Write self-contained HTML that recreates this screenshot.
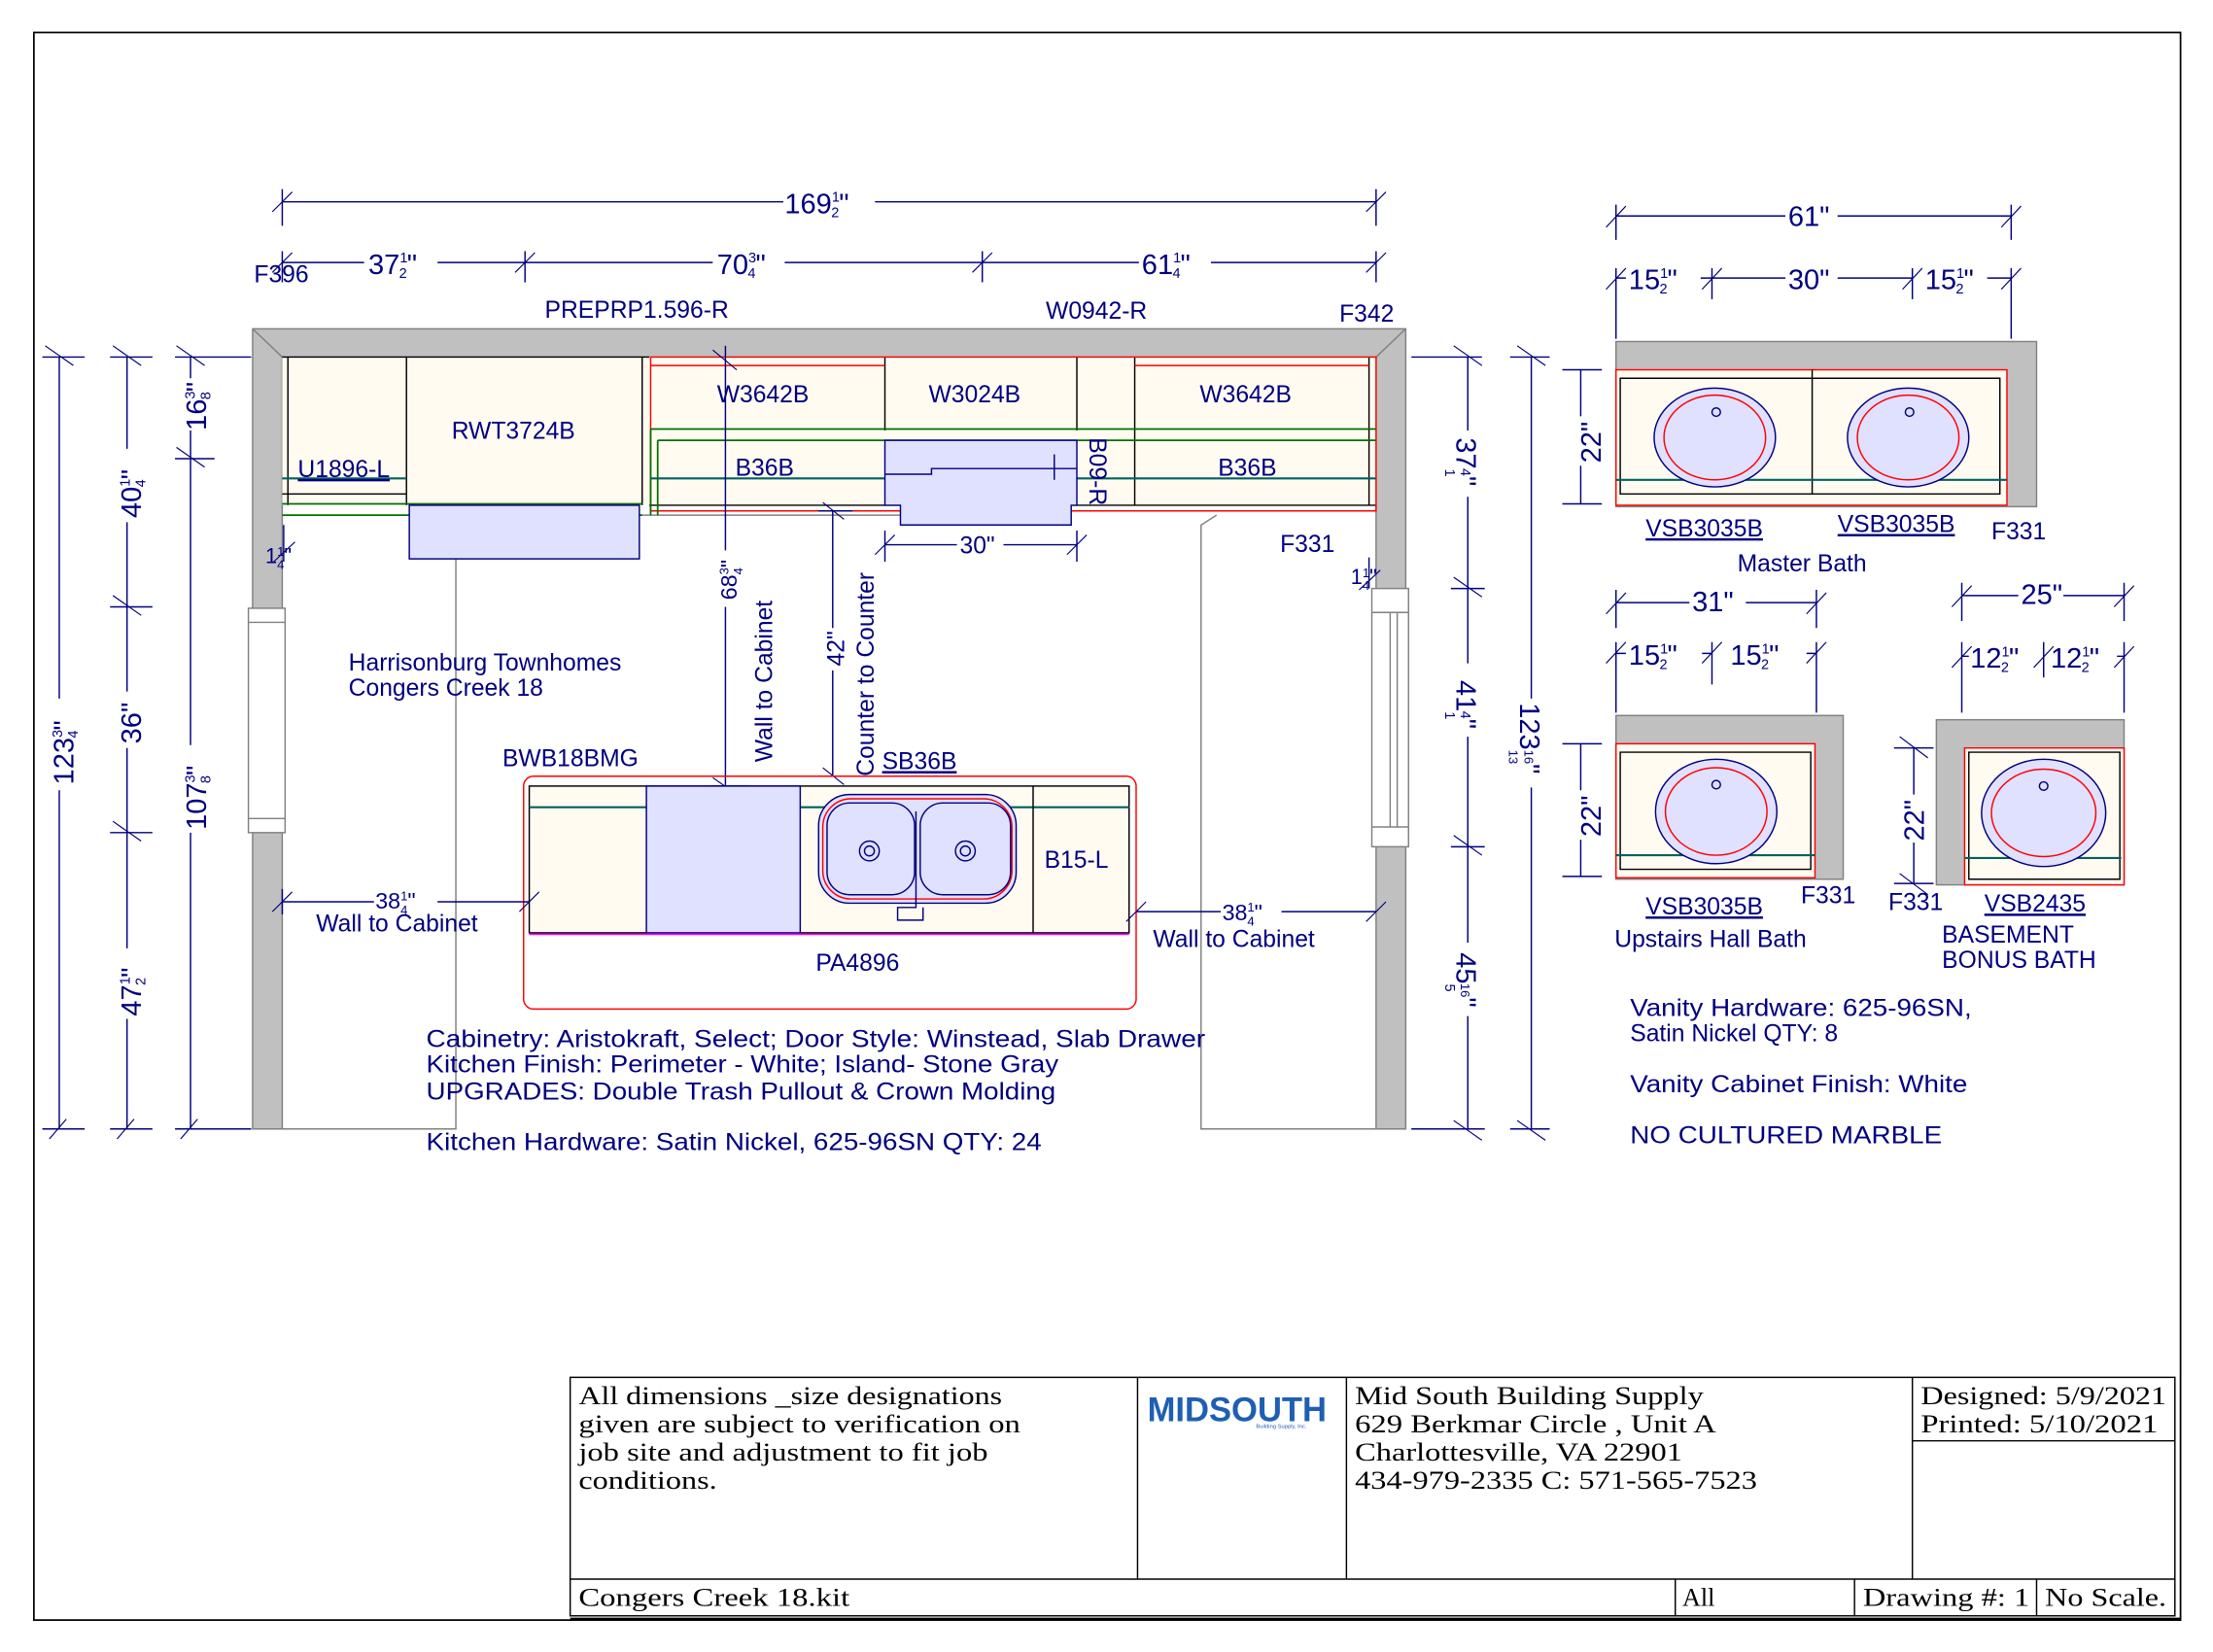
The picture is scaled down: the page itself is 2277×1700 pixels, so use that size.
<!DOCTYPE html>
<html><head><meta charset="utf-8"><style>html,body{margin:0;padding:0;background:#fff}svg{display:block}</style></head>
<body>
<svg xmlns="http://www.w3.org/2000/svg" width="2277" height="1700" viewBox="0 0 1568 1170.6">
<defs>
<style>
text{font-family:"Liberation Sans",sans-serif;fill:#00007f}
.s{font-family:"Liberation Serif",serif;fill:#000;font-size:18px}
.d{stroke:#00007f;stroke-width:1;fill:none}
.t{stroke:#00007f;stroke-width:0.8;fill:none}
.k{stroke:#000;stroke-width:1;fill:none}
.g{stroke:#808080;stroke-width:1;fill:none}
</style>
</defs>
<rect x="0" y="0" width="1568" height="1171" fill="#fff"/>
<rect x="24" y="23" width="1521" height="1125" fill="none" stroke="#000" stroke-width="1.2"/>

<path class="g" d="M200 800 H323 V396"/>
<path class="g" d="M975 800 H851 V372 L862 365"/>
<path class="g" d="M453 365 H640"/>

<path d="M179 233 H996 V800 H975 V253 H200 V800 H179 Z" fill="#c0c0c0" stroke="#808080"/>
<path class="g" d="M179 233 L200 253 M996 233 L975 253"/>
<rect x="176" y="431" width="26" height="159" fill="#fff" stroke="#808080"/>
<path class="g" d="M176 441 H202 M176 580 H202"/>
<rect x="972" y="417" width="26" height="183" fill="#fff" stroke="#808080"/>
<path class="g" d="M972 434 H998 M972 586 H998 M985 434 V586 M990 434 V586"/>

<rect x="200" y="253" width="775" height="105" fill="#fffbf0"/>
<path class="k" d="M200 253 H460 M204 253 V358 M288 253 V358 M455 253 V358 M627 253 V305 M763 253 V305 M804 253 V358 M970 253 V358 M200 350 H288 M460 358 H975"/>
<path d="M461 253 H975 V362 H461 Z" fill="none" stroke="#f00"/>
<path d="M461 259 H627 M804 259 H970" stroke="#f00" fill="none"/>
<path d="M461 304 H975 M466 312 H975 M200 357 H455 M200 365 H455 M461 304 V365 M466 312 V365" stroke="#007000" fill="none" stroke-width="1.2"/>
<path d="M200 339 H288 M461 339 H975" stroke="#006060" stroke-width="1.5" fill="none"/>
<path d="M627 312 H763 V358 H759 V372 H638 V358 H627 Z" fill="#e0e0ff" stroke="#00007f"/>
<path class="d" d="M627 336 H660 V332 H763 M747 322 V340"/>
<rect x="290" y="358" width="163" height="38" fill="#e0e0ff" stroke="#00007f"/>

<g font-size="17">
<text x="320" y="311">RWT3724B</text>
<text x="211" y="338" text-decoration="underline">U1896-L</text>
<text x="508" y="285">W3642B</text>
<text x="658" y="285">W3024B</text>
<text x="850" y="285">W3642B</text>
<text x="521" y="337">B36B</text>
<text x="863" y="337">B36B</text>
<text transform="translate(772 310) rotate(90)">B09-R</text>
<text x="386" y="225">PREPRP1.596-R</text>
<text x="741" y="226">W0942-R</text>
<text x="949" y="228">F342</text>
<text x="180" y="200">F396</text>
<text x="907" y="391">F331</text>
</g>

<!-- top dimensions -->
<path class="d" d="M200 143 H555 M620 143 H975 M200 134 V160 M975 134 V160"/>
<path class="t" d="M193 150 L207 136 M968 150 L982 136"/>
<text x="556" y="151" font-size="20">169<tspan font-size="10" dy="-8">1</tspan><tspan font-size="10" dx="-6" dy="11">2</tspan><tspan dy="-3">"</tspan></text>
<path class="d" d="M200 186 H258 M310 186 H505 M556 186 H807 M858 186 H975 M200 178 V200 M372 178 V200 M696 178 V200 M975 178 V200"/>
<path class="t" d="M193 193 L207 179 M365 193 L379 179 M689 193 L703 179 M968 193 L982 179"/>
<text x="261" y="194" font-size="20">37<tspan font-size="10" dy="-8">1</tspan><tspan font-size="10" dx="-6" dy="11">2</tspan><tspan dy="-3">"</tspan></text>
<text x="508" y="194" font-size="20">70<tspan font-size="10" dy="-8">3</tspan><tspan font-size="10" dx="-6" dy="11">4</tspan><tspan dy="-3">"</tspan></text>
<text x="809" y="194" font-size="20">61<tspan font-size="10" dy="-8">1</tspan><tspan font-size="10" dx="-6" dy="11">4</tspan><tspan dy="-3">"</tspan></text>

<!-- left dims -->
<path class="d" d="M42 253 V495 M42 560 V800 M90 253 V318 M90 370 V490 M90 530 V672 M90 722 V800 M135 253 V268 M135 305 V528 M135 590 V800"/>
<path class="d" d="M30 253 H60 M30 800 H60 M78 253 H108 M78 430 H108 M78 590 H108 M78 800 H108 M124 253 H178 M124 325 H152 M124 800 H178"/>
<path class="t" d="M32 245 L52 259 M80 245 L100 259 M80 422 L100 436 M80 582 L100 596 M125 245 L145 259 M125 317 L145 331 M35 807 L47 793 M83 807 L95 793 M128 807 L140 793"/>
<g font-size="20">
<text transform="translate(52 556) rotate(-90)">123<tspan font-size="10" dy="-8">3</tspan><tspan font-size="10" dx="-6" dy="11">4</tspan><tspan dy="-3">"</tspan></text>
<text transform="translate(100 367) rotate(-90)">40<tspan font-size="10" dy="-8">1</tspan><tspan font-size="10" dx="-6" dy="11">4</tspan><tspan dy="-3">"</tspan></text>
<text transform="translate(100 527) rotate(-90)">36"</text>
<text transform="translate(100 720) rotate(-90)">47<tspan font-size="10" dy="-8">1</tspan><tspan font-size="10" dx="-6" dy="11">2</tspan><tspan dy="-3">"</tspan></text>
<text transform="translate(146 305) rotate(-90)">16<tspan font-size="10" dy="-8">3</tspan><tspan font-size="10" dx="-6" dy="11">8</tspan><tspan dy="-3">"</tspan></text>
<text transform="translate(146 588) rotate(-90)">107<tspan font-size="10" dy="-8">3</tspan><tspan font-size="10" dx="-6" dy="11">8</tspan><tspan dy="-3">"</tspan></text>
</g>
<text x="188" y="399" font-size="15">1<tspan font-size="9" dy="-5">1</tspan><tspan font-size="9" dx="-5" dy="9">4</tspan><tspan dy="-4">"</tspan></text>
<text x="957" y="414" font-size="15">1<tspan font-size="9" dy="-5">1</tspan><tspan font-size="9" dx="-5" dy="9">4</tspan><tspan dy="-4">"</tspan></text>
<path class="d" d="M201 372 V398 M970 395 V417"/>
<path class="t" d="M194 398 L209 384 M963 418 L978 404"/>

<!-- right dims -->
<path class="d" d="M1040 253 V305 M1040 352 V470 M1040 522 V668 M1040 720 V800 M1085 253 V495 M1085 558 V800"/>
<path class="d" d="M1000 253 H1050 M1028 417 H1052 M1028 600 H1052 M1000 800 H1052 M1070 253 H1098 M1070 800 H1098"/>
<path class="t" d="M1030 245 L1050 259 M1030 409 L1050 423 M1030 592 L1050 606 M1030 794 L1050 808 M1075 245 L1095 259 M1075 794 L1095 808"/>
<g font-size="20">
<text transform="translate(1032 310) rotate(90)">37<tspan font-size="10" dy="8">1</tspan><tspan font-size="10" dx="-6" dy="-11">4</tspan><tspan dy="3">"</tspan></text>
<text transform="translate(1032 482) rotate(90)">41<tspan font-size="10" dy="8">1</tspan><tspan font-size="10" dx="-6" dy="-11">4</tspan><tspan dy="3">"</tspan></text>
<text transform="translate(1032 675) rotate(90)">45<tspan font-size="10" dy="8">5</tspan><tspan font-size="9" dx="-6" dy="-11">16</tspan><tspan dy="3">"</tspan></text>
<text transform="translate(1077 498) rotate(90)">123<tspan font-size="9" dy="8">13</tspan><tspan font-size="9" dx="-10" dy="-11">16</tspan><tspan dy="3">"</tspan></text>
</g>

<path class="d" d="M514 245 V390 M514 430 V557 M590 362 V445 M590 475 V550 M504 557 H530 M580 362 H604 M580 550 H604"/>
<path class="t" d="M505 248 L522 262 M505 551 L522 563 M583 356 L598 368 M583 544 L598 556"/>
<text transform="translate(522 425) rotate(-90)" font-size="16">68<tspan font-size="9" dy="-6">3</tspan><tspan font-size="9" dx="-5" dy="10">4</tspan><tspan dy="-4">"</tspan></text>
<text transform="translate(547 540) rotate(-90)" font-size="17">Wall to Cabinet</text>
<text transform="translate(598 472) rotate(-90)" font-size="17">42"</text>
<text transform="translate(619 550) rotate(-90)" font-size="17">Counter to Counter</text>
<path class="d" d="M627 386 H678 M711 386 H763 M627 376 V398 M763 376 V398"/>
<path class="t" d="M620 393 L634 379 M756 393 L770 379"/>
<text x="680" y="392" font-size="17">30"</text>

<g font-size="17">
<text x="247" y="475">Harrisonburg Townhomes</text>
<text x="247" y="493">Congers Creek 18</text>
<text x="356" y="543">BWB18BMG</text>
<text x="625" y="545" text-decoration="underline">SB36B</text>
</g>

<rect x="371" y="550" width="434" height="165" rx="7" fill="none" stroke="#f00"/>
<rect x="375" y="557" width="425" height="104" fill="#fffbf0" stroke="#000"/>
<path d="M375 572 H800" stroke="#006060" stroke-width="1.5"/>
<rect x="458" y="557" width="109" height="104" fill="#e0e0ff" stroke="#00007f"/>
<path class="k" d="M732 557 V661"/>
<path d="M375 662 H800" stroke="#f0f" stroke-width="1.2"/>
<rect x="580" y="563" width="140" height="77" rx="22" fill="#e0e0ff" stroke="#00007f"/>
<rect x="583" y="566" width="134" height="71" rx="20" fill="none" stroke="#f00"/>
<rect x="586" y="569" width="62" height="65" rx="16" fill="none" stroke="#00007f"/>
<rect x="652" y="569" width="64" height="65" rx="16" fill="none" stroke="#00007f"/>
<circle cx="616" cy="603" r="7" class="d"/><circle cx="616" cy="603" r="3.5" class="d"/>
<circle cx="684" cy="603" r="7" class="d"/><circle cx="684" cy="603" r="3.5" class="d"/>
<path class="d" d="M649 575 V643 H636 V652 H654 V643"/>
<text x="740" y="615" font-size="17">B15-L</text>
<text x="578" y="688" font-size="17">PA4896</text>
<path class="d" d="M200 639 H265 M310 639 H375 M805 646 H865 M908 646 H975 M200 630 V648"/>
<path class="t" d="M193 646 L207 632 M368 646 L382 632 M798 653 L812 639 M968 653 L982 639"/>
<text x="266" y="644" font-size="16">38<tspan font-size="9" dy="-6">1</tspan><tspan font-size="9" dx="-5" dy="10">4</tspan><tspan dy="-4">"</tspan></text>
<text x="224" y="660" font-size="17">Wall to Cabinet</text>
<text x="866" y="652" font-size="16">38<tspan font-size="9" dy="-6">1</tspan><tspan font-size="9" dx="-5" dy="10">4</tspan><tspan dy="-4">"</tspan></text>
<text x="817" y="671" font-size="17">Wall to Cabinet</text>

<g font-size="17">
<text x="302" y="742" textLength="552" lengthAdjust="spacingAndGlyphs">Cabinetry: Aristokraft, Select;  Door Style: Winstead, Slab Drawer</text>
<text x="302" y="760" textLength="448" lengthAdjust="spacingAndGlyphs">Kitchen Finish: Perimeter - White; Island- Stone Gray</text>
<text x="302" y="779" textLength="446" lengthAdjust="spacingAndGlyphs">UPGRADES: Double Trash Pullout &amp; Crown Molding</text>
<text x="302" y="815" textLength="436" lengthAdjust="spacingAndGlyphs">Kitchen Hardware: Satin Nickel, 625-96SN QTY: 24</text>
<text x="1155" y="720" textLength="242" lengthAdjust="spacingAndGlyphs">Vanity Hardware: 625-96SN,</text>
<text x="1155" y="738">Satin Nickel QTY: 8</text>
<text x="1155" y="774" textLength="239" lengthAdjust="spacingAndGlyphs">Vanity Cabinet Finish: White</text>
<text x="1155" y="810" textLength="221" lengthAdjust="spacingAndGlyphs">NO CULTURED MARBLE</text>
</g>

<!-- Master bath -->
<path class="d" d="M1145 153 H1265 M1302 153 H1425 M1145 145 V170 M1425 145 V170"/>
<path class="t" d="M1138 161 L1152 146 M1418 161 L1432 146"/>
<text x="1267" y="160" font-size="20">61"</text>
<path class="d" d="M1145 197 H1152 M1205 197 H1265 M1302 197 H1355 M1408 197 H1425 M1145 190 V240 M1213 190 V212 M1355 190 V212 M1425 190 V240"/>
<path class="t" d="M1138 205 L1152 190 M1206 205 L1220 190 M1348 205 L1362 190 M1418 205 L1432 190"/>
<text x="1154" y="205" font-size="20">15<tspan font-size="10" dy="-8">1</tspan><tspan font-size="10" dx="-6" dy="11">2</tspan><tspan dy="-3">"</tspan></text>
<text x="1267" y="205" font-size="20">30"</text>
<text x="1364" y="205" font-size="20">15<tspan font-size="10" dy="-8">1</tspan><tspan font-size="10" dx="-6" dy="11">2</tspan><tspan dy="-3">"</tspan></text>
<rect x="1145" y="242" width="298" height="117" fill="#c0c0c0" stroke="#808080"/>
<rect x="1145" y="262" width="277" height="96" fill="#fffbf0" stroke="#f00"/>
<path class="k" d="M1148 268 H1417 V350 H1148 Z M1284 262 V350"/>
<path d="M1145 340 H1422" stroke="#006060" stroke-width="1.5"/>
<ellipse cx="1215" cy="310" rx="43" ry="35" fill="#e0e0ff" stroke="#00007f"/>
<ellipse cx="1215" cy="310" rx="36" ry="30" fill="none" stroke="#f00"/>
<circle cx="1216" cy="292" r="3" class="d"/>
<ellipse cx="1352" cy="310" rx="43" ry="35" fill="#e0e0ff" stroke="#00007f"/>
<ellipse cx="1352" cy="310" rx="36" ry="30" fill="none" stroke="#f00"/>
<circle cx="1353" cy="292" r="3" class="d"/>
<path class="d" d="M1120 262 V295 M1120 330 V357 M1107 262 H1135 M1107 357 H1135"/>
<text transform="translate(1134 328) rotate(-90)" font-size="20">22"</text>
<text x="1166" y="380" font-size="17" text-decoration="underline">VSB3035B</text>
<text x="1302" y="377" font-size="17" text-decoration="underline">VSB3035B</text>
<text x="1411" y="382" font-size="17">F331</text>
<text x="1231" y="405" font-size="17">Master Bath</text>

<!-- Upstairs -->
<path class="d" d="M1145 427 H1197 M1237 427 H1287 M1145 418 V445 M1287 418 V445"/>
<path class="t" d="M1138 435 L1152 420 M1280 435 L1294 420"/>
<text x="1199" y="433" font-size="20">31"</text>
<path class="d" d="M1145 463 H1152 M1206 463 H1213 M1280 463 H1287 M1145 455 V505 M1213 455 V485 M1287 455 V505"/>
<path class="t" d="M1138 470 L1152 455 M1206 470 L1220 455 M1280 470 L1294 455"/>
<text x="1154" y="471" font-size="20">15<tspan font-size="10" dy="-8">1</tspan><tspan font-size="10" dx="-6" dy="11">2</tspan><tspan dy="-3">"</tspan></text>
<text x="1226" y="471" font-size="20">15<tspan font-size="10" dy="-8">1</tspan><tspan font-size="10" dx="-6" dy="11">2</tspan><tspan dy="-3">"</tspan></text>
<rect x="1145" y="507" width="161" height="116" fill="#c0c0c0" stroke="#808080"/>
<rect x="1145" y="527" width="141" height="95" fill="#fffbf0" stroke="#f00"/>
<path class="k" d="M1148 533 H1283 V616 H1148 Z"/>
<path d="M1145 606 H1286" stroke="#006060" stroke-width="1.5"/>
<ellipse cx="1216" cy="575" rx="43" ry="37" fill="#e0e0ff" stroke="#00007f"/>
<ellipse cx="1216" cy="575" rx="36" ry="31" fill="none" stroke="#f00"/>
<circle cx="1216" cy="556" r="3" class="d"/>
<path class="d" d="M1120 527 V560 M1120 595 V621 M1107 527 H1135 M1107 621 H1135"/>
<text transform="translate(1134 593) rotate(-90)" font-size="20">22"</text>
<text x="1166" y="648" font-size="17" text-decoration="underline">VSB3035B</text>
<text x="1276" y="640" font-size="17">F331</text>
<text x="1144" y="671" font-size="17">Upstairs Hall Bath</text>

<!-- Basement -->
<path class="d" d="M1390 422 H1430 M1462 422 H1505 M1390 413 V440 M1505 413 V440"/>
<path class="t" d="M1383 430 L1397 415 M1498 430 L1512 415"/>
<text x="1432" y="428" font-size="20">25"</text>
<path class="d" d="M1390 465 H1395 M1505 465 H1500 M1390 455 V505 M1448 455 V480 M1505 455 V505"/>
<path class="t" d="M1383 473 L1397 458 M1441 473 L1455 458 M1498 473 L1512 458"/>
<text x="1396" y="473" font-size="20">12<tspan font-size="10" dy="-8">1</tspan><tspan font-size="10" dx="-6" dy="11">2</tspan><tspan dy="-3">"</tspan></text>
<text x="1453" y="473" font-size="20">12<tspan font-size="10" dy="-8">1</tspan><tspan font-size="10" dx="-6" dy="11">2</tspan><tspan dy="-3">"</tspan></text>
<rect x="1372" y="510" width="133" height="117" fill="#c0c0c0" stroke="#808080"/>
<rect x="1392" y="530" width="113" height="97" fill="#fffbf0" stroke="#f00"/>
<path class="k" d="M1395 533 H1502 V623 H1395 Z"/>
<path d="M1392 608 H1503" stroke="#006060" stroke-width="1.5"/>
<ellipse cx="1448" cy="576" rx="44" ry="38" fill="#e0e0ff" stroke="#00007f"/>
<ellipse cx="1448" cy="576" rx="37" ry="31" fill="none" stroke="#f00"/>
<circle cx="1448" cy="557" r="3" class="d"/>
<path class="d" d="M1356 530 V563 M1356 597 V626 M1342 530 H1370 M1342 626 H1370"/>
<path class="t" d="M1346 522 L1366 537 M1346 619 L1366 634"/>
<text transform="translate(1363 596) rotate(-90)" font-size="20">22"</text>
<text x="1338" y="645" font-size="17">F331</text>
<text x="1406" y="646" font-size="17" text-decoration="underline">VSB2435</text>
<text x="1376" y="668" font-size="17">BASEMENT</text>
<text x="1376" y="686" font-size="17">BONUS BATH</text>

<g stroke="#000" fill="none" stroke-width="1">
<rect x="404" y="976" width="1137" height="169"/>
<path d="M806 976 V1119 M954 976 V1119 M1355 976 V1119 M404 1119 H1541 M1355 1021 H1541 M1187 1119 V1145 M1314 1119 V1145 M1443 1119 V1145"/>
<path d="M404 1147 H1545" stroke-width="1.5"/>
</g>
<text class="s" x="410" y="995" textLength="300" lengthAdjust="spacingAndGlyphs">All dimensions _size designations</text>
<text class="s" x="410" y="1015" textLength="313" lengthAdjust="spacingAndGlyphs">given are subject to verification on</text>
<text class="s" x="410" y="1035" textLength="290" lengthAdjust="spacingAndGlyphs">job site and adjustment to fit job</text>
<text class="s" x="410" y="1055" textLength="98" lengthAdjust="spacingAndGlyphs">conditions.</text>
<text class="s" x="960" y="995" textLength="247" lengthAdjust="spacingAndGlyphs">Mid South Building Supply</text>
<text class="s" x="960" y="1015" textLength="256" lengthAdjust="spacingAndGlyphs">629 Berkmar Circle , Unit A</text>
<text class="s" x="960" y="1035" textLength="232" lengthAdjust="spacingAndGlyphs">Charlottesville, VA 22901</text>
<text class="s" x="960" y="1055" textLength="285" lengthAdjust="spacingAndGlyphs">434-979-2335 C: 571-565-7523</text>
<text class="s" x="1361" y="995" textLength="174" lengthAdjust="spacingAndGlyphs">Designed: 5/9/2021</text>
<text class="s" x="1361" y="1015" textLength="168" lengthAdjust="spacingAndGlyphs">Printed: 5/10/2021</text>
<text class="s" x="410" y="1138" textLength="192" lengthAdjust="spacingAndGlyphs">Congers Creek 18.kit</text>
<text class="s" x="1192" y="1138">All</text>
<text class="s" x="1320" y="1138" textLength="118" lengthAdjust="spacingAndGlyphs">Drawing #: 1</text>
<text class="s" x="1449" y="1138" textLength="86" lengthAdjust="spacingAndGlyphs">No Scale.</text>
<text x="813" y="1007" font-family="Liberation Serif,serif" font-size="24" font-weight="bold" style="fill:#1e5fb4" textLength="127" lengthAdjust="spacingAndGlyphs">MIDSOUTH</text>
<text x="890" y="1012" font-size="4" style="fill:#1e5fb4">Building Supply, Inc.</text>
</svg>
</body></html>
